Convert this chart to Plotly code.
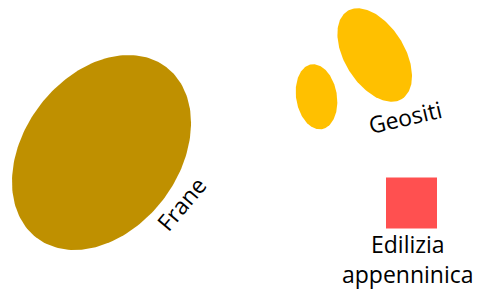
import numpy as np
import plotly.graph_objects as go

# ---- data ----
ellipse_groups = ["Frane", "Geositi", "Geositi"]
ellipse_cx = [101.5, 316.5, 374.7]
ellipse_cy = [152.5, 96.8, 55.0]
ellipse_a = [107.2, 32.8, 51.7]
ellipse_b = [77.6, 20.4, 30.0]
ellipse_angle = [-52.9, 80.7, 58.2]
ellipse_colors = ["#BF9000", "#FFC000", "#FFC000"]

square_name = "Edilizia appenninica"
square_x = [411.5]
square_y = [203.0]
square_size = [51]
square_color = "#FF5050"

label_text = ["Frane", "Geositi", "Edilizia<br>appenninica"]
label_x = [181, 405, 408]
label_y = [204, 117, 259]
label_angle = [-50, -13, 0]
label_size = [23, 23, 23]

fig = go.Figure()

phi = np.linspace(0, 2 * np.pi, 200)
for name, cx, cy, a, b, ang, col in zip(ellipse_groups, ellipse_cx, ellipse_cy,
                                         ellipse_a, ellipse_b, ellipse_angle, ellipse_colors):
    t = np.deg2rad(ang)
    xs = cx + a * np.cos(phi) * np.cos(t) - b * np.sin(phi) * np.sin(t)
    ys = cy + a * np.cos(phi) * np.sin(t) + b * np.sin(phi) * np.cos(t)
    fig.add_trace(go.Scatter(x=xs, y=ys, mode="lines", fill="toself",
                             fillcolor=col, line=dict(width=0, color=col),
                             name=name, hoverinfo="name", showlegend=False))

fig.add_trace(go.Scatter(x=square_x, y=square_y, mode="markers", name=square_name,
                         marker=dict(symbol="square", size=square_size, color=square_color,
                                     opacity=1, line=dict(width=0)),
                         showlegend=False))

for txt, x, y, ang, sz in zip(label_text, label_x, label_y, label_angle, label_size):
    fig.add_annotation(x=x, y=y, text=txt, textangle=ang, showarrow=False,
                       xref="x", yref="y",
                       font=dict(family="Open Sans", size=sz, color="#000000"))

fig.update_layout(
    width=478, height=290,
    margin=dict(l=0, r=0, t=0, b=0),
    paper_bgcolor="white", plot_bgcolor="white",
    xaxis=dict(range=[0, 478], visible=False, fixedrange=True),
    yaxis=dict(range=[290, 0], visible=False, fixedrange=True),
)

fig.write_html("out.html", config={"displayModeBar": False},
               post_script="document.body.style.margin='0';document.body.style.overflow='hidden';")
